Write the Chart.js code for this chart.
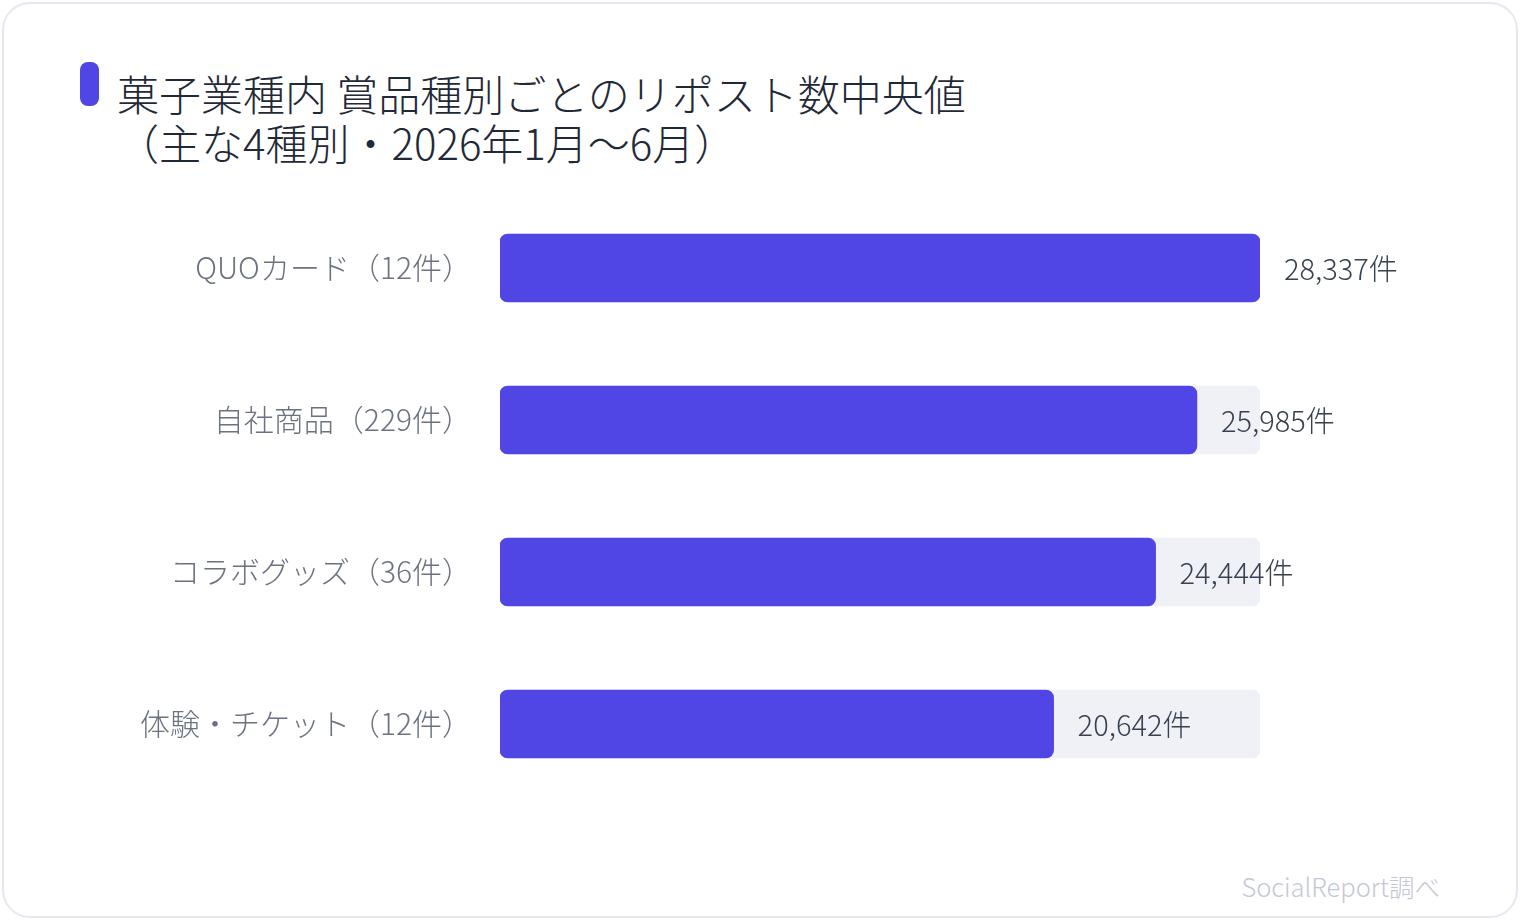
<!DOCTYPE html>
<html lang="ja">
<head>
<meta charset="utf-8">
<script src="https://cdn.jsdelivr.net/npm/chart.js@4"></script>
<style>
  html, body { margin: 0; padding: 0; background: #ffffff; }
  body { width: 1520px; height: 920px; position: relative; overflow: hidden;
         font-family: "Noto Sans CJK JP", sans-serif; font-weight: 300; }
  .card { position: absolute; left: 2px; top: 2px; width: 1512px; height: 912px;
          border: 2px solid #e6e8f1; border-radius: 28px; background: #fff; }
  .marker { position: absolute; left: 80px; top: 62px; width: 19px; height: 44px;
            border-radius: 8px; background: #4f46e5; }
  .title { position: absolute; left: 117px; top: 68px; font-size: 42px; line-height: 49px;
           color: #1f2937; white-space: nowrap; }
  .footer { position: absolute; right: 80px; top: 869px; font-size: 25.5px; line-height: 34px;
            color: #c3c7d6; }
  #wrap { position: absolute; left: 0; top: 0; width: 1520px; height: 920px; }
</style>
</head>
<body>
<div class="card"></div>
<div class="marker"></div>
<div class="title">菓子業種内 賞品種別ごとのリポスト数中央値<br>（主な4種別・2026年1月～6月）</div>
<div class="footer">SocialReport調べ</div>
<div id="wrap"><canvas id="c" width="1520" height="920"></canvas></div>
<script>
const categories = ["QUOカード（12件）", "自社商品（229件）", "コラボグッズ（36件）", "体験・チケット（12件）"];
const values = [28337, 25985, 24444, 20642];
const valueUnit = "件";

const FONT = '"Noto Sans CJK JP", sans-serif';
const maxValue = Math.max(...values);
const trackValues = categories.map(() => maxValue);

const valueLabels = {
  id: 'valueLabels',
  afterDatasetsDraw(chart) {
    const ctx = chart.ctx;
    const meta = chart.getDatasetMeta(1);
    ctx.save();
    ctx.font = '300 29px ' + FONT;
    ctx.fillStyle = '#374151';
    ctx.textAlign = 'left';
    ctx.textBaseline = 'middle';
    meta.data.forEach((bar, i) => {
      const txt = values[i].toLocaleString('en-US') + valueUnit;
      ctx.fillText(txt, bar.x + 24, bar.y + 1);
    });
    ctx.restore();
  }
};

new Chart(document.getElementById('c'), {
  type: 'bar',
  data: {
    labels: categories,
    datasets: [
      { data: trackValues, backgroundColor: '#f0f1f7', borderRadius: 8, borderSkipped: false,
        barThickness: 68, grouped: false, order: 2 },
      { data: values, backgroundColor: '#4f46e5', borderRadius: 8, borderSkipped: false,
        barThickness: 68, grouped: false, order: 1 }
    ]
  },
  options: {
    indexAxis: 'y',
    responsive: false,
    animation: false,
    devicePixelRatio: 1,
    layout: { padding: { left: 0, right: 260, top: 192, bottom: 120 } },
    plugins: { legend: { display: false }, tooltip: { enabled: false } },
    scales: {
      x: { min: 0, max: maxValue, display: false },
      y: {
        grid: { display: false },
        border: { display: false },
        afterFit(scale) { scale.width = 500; },
        ticks: {
          padding: 20,
          color: '#6b7280',
          font: { family: FONT, size: 30, weight: 300 }
        }
      }
    }
  },
  plugins: [valueLabels]
});
</script>
</body>
</html>
